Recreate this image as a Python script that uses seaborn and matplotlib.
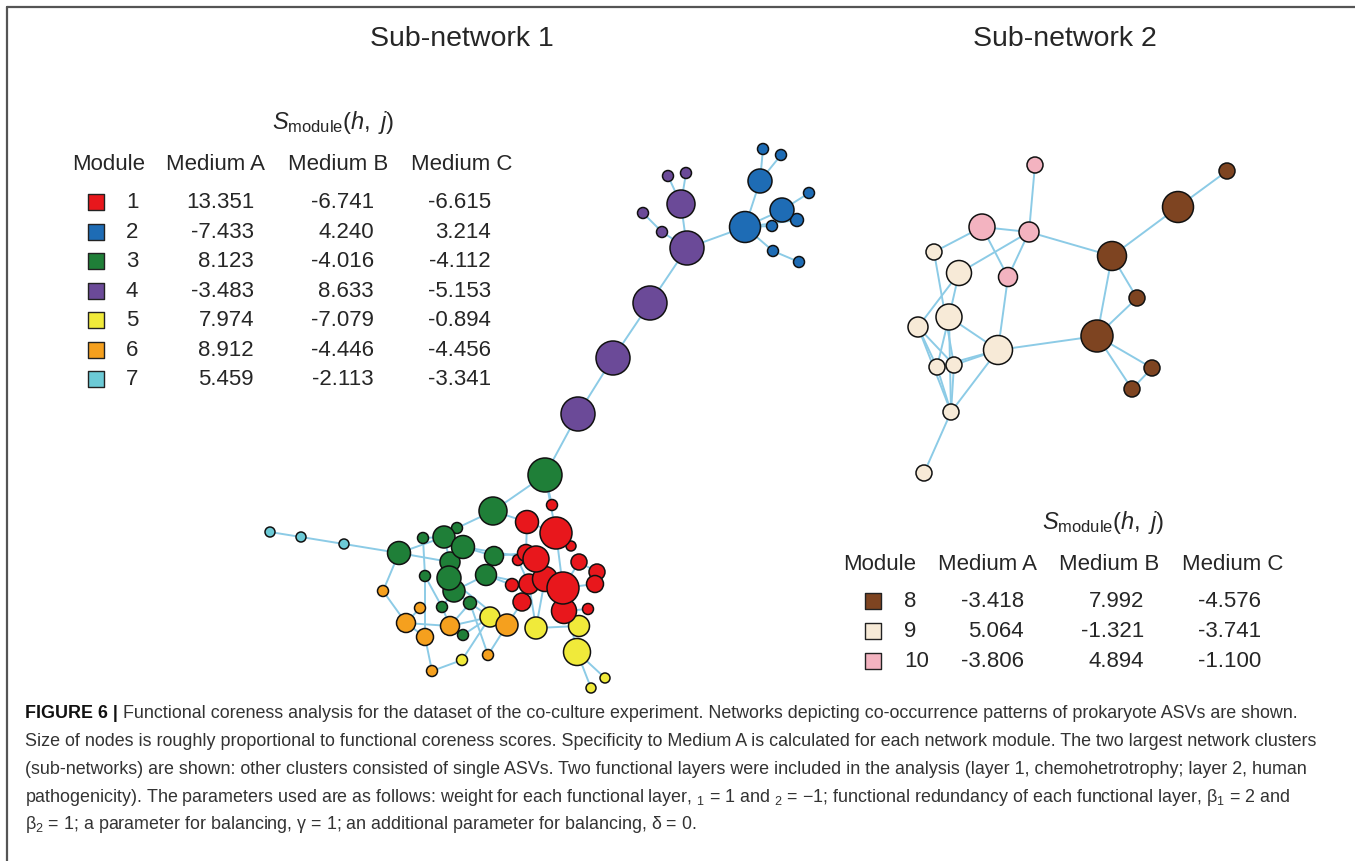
import pandas as pd
import numpy as np
import seaborn as sns
import matplotlib.pyplot as plt

# ---- data -------------------------------------------------------------
# module colours
module_colors = {1: '#E8171C', 2: '#1E6CB5', 3: '#1F7F38', 4: '#6B4A98', 5: '#F0EA3A',
                 6: '#F5A01E', 7: '#6CCAD6', 8: '#7E4421', 9: '#F7EAD7', 10: '#F3B3C0'}

# sub-network 1 nodes (layout coordinates, radius, module)
net1_names = ['c1', 'c2', 'c3',
              'g1', 'g2', 'g3', 'g4', 'g5', 'g6', 'g7', 'g8', 'g9', 'g10', 'g11', 'g12', 'g13', 'g14', 'g15', 'g16',
              'r1', 'r2', 'r3', 'r4', 'r5', 'r6', 'r7', 'r8', 'r9', 'r10', 'r11', 'r12', 'r13', 'r14', 'r15', 'r16', 'r17',
              'y1', 'y2', 'y3', 'y4', 'y5', 'y6', 'y7',
              'o1', 'o2', 'o3', 'o4', 'o5', 'o6', 'o7', 'o8',
              'p1', 'p2', 'p3', 'p4', 'p5', 'p6', 'p7', 'p8', 'p9',
              'b1', 'b2', 'b3', 'b4', 'b5', 'b6', 'b7', 'b8', 'b9', 'b10']
net1_x = [270, 301, 344,
          545, 493, 399, 423, 444, 457, 463, 450, 494, 425, 449, 454, 486, 442, 470, 463,
          552, 527, 556, 571, 518, 526, 536, 579, 597, 545, 529, 563, 595, 512, 522, 564, 588,
          490, 536, 579, 577, 462, 605, 591,
          383, 420, 406, 425, 450, 507, 488, 432,
          578, 613, 650, 687, 681, 668, 686, 643, 662,
          745, 760, 763, 781, 782, 809, 797, 772, 773, 799]
net1_y = [533, 538, 545,
          476, 512, 554, 539, 538, 529, 548, 563, 557, 577, 579, 592, 576, 608, 604, 636,
          506, 523, 534, 547, 561, 554, 560, 563, 573, 580, 585, 589, 585, 586, 603, 612, 610,
          618, 629, 627, 653, 661, 679, 689,
          592, 609, 624, 638, 627, 626, 656, 672,
          415, 359, 304, 249, 205, 177, 174, 214, 233,
          228, 182, 150, 156, 211, 194, 221, 227, 252, 263]
net1_r = [5, 5, 5,
          17, 14, 11.5, 5.5, 11, 5.5, 11.5, 10, 9.5, 5.5, 12, 11, 10.5, 5.5, 6.5, 5.5,
          5.5, 11.5, 16, 5, 5.5, 8.5, 13, 8, 8, 12.5, 10, 16, 8.5, 6.5, 9, 12.5, 5.5,
          10, 11, 10.5, 13.5, 5.5, 5, 5,
          5.5, 5.5, 9.5, 8.5, 9.5, 11, 5.5, 5.5,
          17, 17, 17, 17, 14, 5.5, 5.5, 5.5, 5.5,
          15.5, 12, 5.5, 5.5, 12, 5.5, 6.5, 5.5, 5.5, 5.5]
net1_module = [7] * 3 + [3] * 16 + [1] * 17 + [5] * 7 + [6] * 8 + [4] * 9 + [2] * 10
net1_edges = [('c1', 'c2'), ('c2', 'c3'), ('c3', 'g3'), ('g3', 'o1'), ('o1', 'o3'),
              ('g1', 'g2'), ('g1', 'r1'), ('g1', 'r3'), ('g2', 'g6'), ('g2', 'r2'),
              ('g3', 'g5'), ('g3', 'g8'), ('g4', 'g10'), ('g5', 'g7'), ('g7', 'g9'),
              ('g8', 'g11'), ('g9', 'r6'), ('g9', 'g13'), ('g11', 'g12'), ('g12', 'g13'),
              ('g13', 'r14'), ('g10', 'g14'), ('g14', 'o5'), ('g14', 'g12'), ('g12', 'g15'),
              ('g15', 'y1'), ('g16', 'o5'), ('g16', 'y1'), ('o3', 'o5'), ('o3', 'o4'),
              ('o4', 'o8'), ('o8', 'y5'), ('y5', 'y1'), ('y1', 'o6'), ('o6', 'o7'),
              ('o6', 'r15'), ('r11', 'y2'), ('r12', 'y4'), ('y4', 'y6'), ('y4', 'y7'),
              ('y3', 'r16'), ('r16', 'r12'), ('r13', 'r9'), ('r9', 'r8'), ('r8', 'r12'),
              ('r3', 'r12'), ('r2', 'r6'), ('r6', 'r7'), ('r7', 'r10'), ('r10', 'r12'),
              ('r5', 'r11'), ('r14', 'r11'), ('r15', 'r11'), ('r16', 'r17'), ('r3', 'r4'),
              ('r13', 'r12'), ('r10', 'y2'), ('g7', 'r7'), ('g5', 'g8'), ('o5', 'y1'),
              ('o2', 'o3'), ('g13', 'r11'), ('g15', 'o5'), ('g6', 'g5'), ('g11', 'o6'),
              ('g4', 'g5'), ('o4', 'g10'), ('y2', 'y3'), ('r2', 'r3'), ('g15', 'o7'),
              ('g1', 'p1'), ('p1', 'p2'), ('p2', 'p3'), ('p3', 'p4'), ('p4', 'p5'),
              ('p5', 'p6'), ('p5', 'p7'), ('p4', 'p9'), ('p9', 'p8'), ('p4', 'b1'),
              ('b1', 'b2'), ('b2', 'b3'), ('b2', 'b4'), ('b1', 'b5'), ('b5', 'b6'),
              ('b1', 'b7'), ('b1', 'b8'), ('b1', 'b9'), ('b9', 'b10')]

# sub-network 2 nodes
net2_names = ['k1', 'k2', 'k3', 'k4',
              'e1', 'e2', 'e3', 'e4', 'e5', 'e6', 'e7', 'e8', 'e9',
              'w1', 'w2', 'w3', 'w4', 'w5', 'w6', 'w7']
net2_x = [1035, 982, 1029, 1008,
          934, 959, 949, 918, 998, 937, 954, 951, 924,
          1227, 1178, 1112, 1137, 1097, 1152, 1132]
net2_y = [166, 228, 233, 278,
          253, 274, 318, 328, 351, 368, 366, 413, 474,
          172, 208, 257, 299, 337, 369, 390]
net2_r = [8, 13, 10, 9.5,
          8, 12.5, 13, 10, 14.5, 8, 8, 8, 8,
          8, 15.5, 14.5, 8, 16, 8, 8]
net2_module = [10] * 4 + [9] * 9 + [8] * 7
net2_edges = [('k1', 'k3'), ('k2', 'k3'), ('k2', 'e1'), ('k2', 'k4'), ('k3', 'k4'),
              ('k3', 'e2'), ('k3', 'w3'), ('e1', 'e7'), ('e2', 'e4'), ('e2', 'e3'),
              ('e3', 'e5'), ('e3', 'e6'), ('e3', 'e8'), ('e4', 'e6'), ('e4', 'e7'),
              ('e4', 'e8'), ('e5', 'e7'), ('e5', 'e6'), ('e5', 'e8'), ('k4', 'e5'),
              ('e5', 'w5'), ('e8', 'e9'), ('e6', 'e8'), ('e7', 'e8'),
              ('w1', 'w2'), ('w2', 'w3'), ('w3', 'w4'), ('w3', 'w5'), ('w4', 'w5'),
              ('w5', 'w6'), ('w5', 'w7'), ('w6', 'w7')]

# tables
table1_modules = [1, 2, 3, 4, 5, 6, 7]
table1_a = ['13.351', '-7.433', '8.123', '-3.483', '7.974', '8.912', '5.459']
table1_b = ['-6.741', '4.240', '-4.016', '8.633', '-7.079', '-4.446', '-2.113']
table1_c = ['-6.615', '3.214', '-4.112', '-5.153', '-0.894', '-4.456', '-3.341']
table2_modules = [8, 9, 10]
table2_a = ['-3.418', '5.064', '-3.806']
table2_b = ['7.992', '-1.321', '4.894']
table2_c = ['-4.576', '-3.741', '-1.100']
headers = ['Module', 'Medium A', 'Medium B', 'Medium C']

caption_bold = 'FIGURE 6 |'
caption_lines = [
    ' Functional coreness analysis for the dataset of the co-culture experiment. Networks depicting co-occurrence patterns of prokaryote ASVs are shown.',
    'Size of nodes is roughly proportional to functional coreness scores. Specificity to Medium A is calculated for each network module. The two largest network clusters',
    '(sub-networks) are shown: other clusters consisted of single ASVs. Two functional layers were included in the analysis (layer 1, chemohetrotrophy; layer 2, human',
    'pathogenicity). The parameters used are as follows: weight for each functional layer, $_1$ = 1 and $_2$ = \u22121; functional redundancy of each functional layer, \u03b2$_1$ = 2 and',
    '\u03b2$_2$ = 1; a parameter for balancing, \u03b3 = 1; an additional parameter for balancing, \u03b4 = 0.',
]

# ---- style ------------------------------------------------------------
sns.set_style('white')
plt.rcParams['font.family'] = ['Liberation Sans', 'DejaVu Sans']
plt.rcParams['mathtext.fontset'] = 'custom'
plt.rcParams['mathtext.rm'] = 'Liberation Sans'
plt.rcParams['mathtext.it'] = 'Liberation Sans:italic'

W, H = 1355, 862
fig = plt.figure(figsize=(W / 100, H / 100), dpi=100)
ax = fig.add_axes([0, 0, 1, 1])
ax.set_xlim(0, W)
ax.set_ylim(H, 0)
ax.axis('off')

edge_col = '#8CCBE6'


def draw_network(names, xs, ys, rs, mods, edges):
    df = pd.DataFrame({'name': names, 'x': xs, 'y': ys, 'r': rs, 'module': mods})
    pos = df.set_index('name')
    for a, b in edges:
        ax.plot([pos.loc[a, 'x'], pos.loc[b, 'x']], [pos.loc[a, 'y'], pos.loc[b, 'y']],
                color=edge_col, lw=1.4, zorder=1, solid_capstyle='round')
    # marker area in points^2 (1 px = 0.72 pt at 100 dpi)
    df['area'] = (2 * df['r'] * 0.72) ** 2
    df = df.sort_values('r')
    sns.scatterplot(data=df, x='x', y='y', hue='module', palette=module_colors,
                    s=df['area'].values, edgecolor='#111111', linewidth=1.1,
                    legend=False, ax=ax, zorder=3)


draw_network(net1_names, net1_x, net1_y, net1_r, net1_module, net1_edges)
draw_network(net2_names, net2_x, net2_y, net2_r, net2_module, net2_edges)
ax.set_xlim(0, W)
ax.set_ylim(H, 0)
ax.set_xlabel('')
ax.set_ylabel('')


def draw_table(mods, col_a, col_b, col_c, sq_x, num_x, right_x, head_x, head_y, title_x, title_y, row_y0, row_dy):
    ax.text(title_x, title_y, r'$S_{\mathrm{module}}(h,\ j)$', fontsize=17, ha='center', va='center')
    for hx, h in zip(head_x, headers):
        ax.text(hx, head_y, h, fontsize=16, ha='center', va='center')
    for i, m in enumerate(mods):
        y = row_y0 + i * row_dy
        ax.scatter([sq_x], [y], marker='s', s=(16 * 0.72) ** 2, color=module_colors[m],
                   edgecolor='#222222', linewidth=1.0, zorder=3)
        ax.text(num_x, y, str(m), fontsize=16, ha='left', va='center')
        for rx, col in zip(right_x, (col_a, col_b, col_c)):
            ax.text(rx, y, col[i], fontsize=16, ha='right', va='center')


draw_table(table1_modules, table1_a, table1_b, table1_c, 96, 126, [254, 374, 491],
           [109, 216, 338, 462], 165, 333, 123, 203, 29.5)
draw_table(table2_modules, table2_a, table2_b, table2_c, 873, 904, [1024, 1144, 1261],
           [880, 987, 1109, 1233], 565, 1103, 523, 602, 30)

# titles
ax.text(462, 39, 'Sub-network 1', fontsize=20.5, ha='center', va='center')
ax.text(1065, 39, 'Sub-network 2', fontsize=20.5, ha='center', va='center')

# frame lines
ax.plot([7, W], [8, 8], color='#555555', lw=1.6, zorder=0)
ax.plot([7, 7], [8, H], color='#555555', lw=1.6, zorder=0)

# caption
cap_y = [714, 742, 770, 798, 825]
cap_size = 12.9
tb = ax.text(25, cap_y[0], caption_bold, fontsize=cap_size, fontweight='bold', ha='left', va='center', color='#111111')
fig.canvas.draw()
bb = tb.get_window_extent()
x_after = bb.x1  # display px == data px here
ax.text(x_after, cap_y[0], caption_lines[0], fontsize=cap_size, ha='left', va='center', color='#333333')
for y, line in zip(cap_y[1:], caption_lines[1:]):
    ax.text(25, y, line, fontsize=cap_size, ha='left', va='center', color='#333333')

fig.savefig('out.png', dpi=100)
